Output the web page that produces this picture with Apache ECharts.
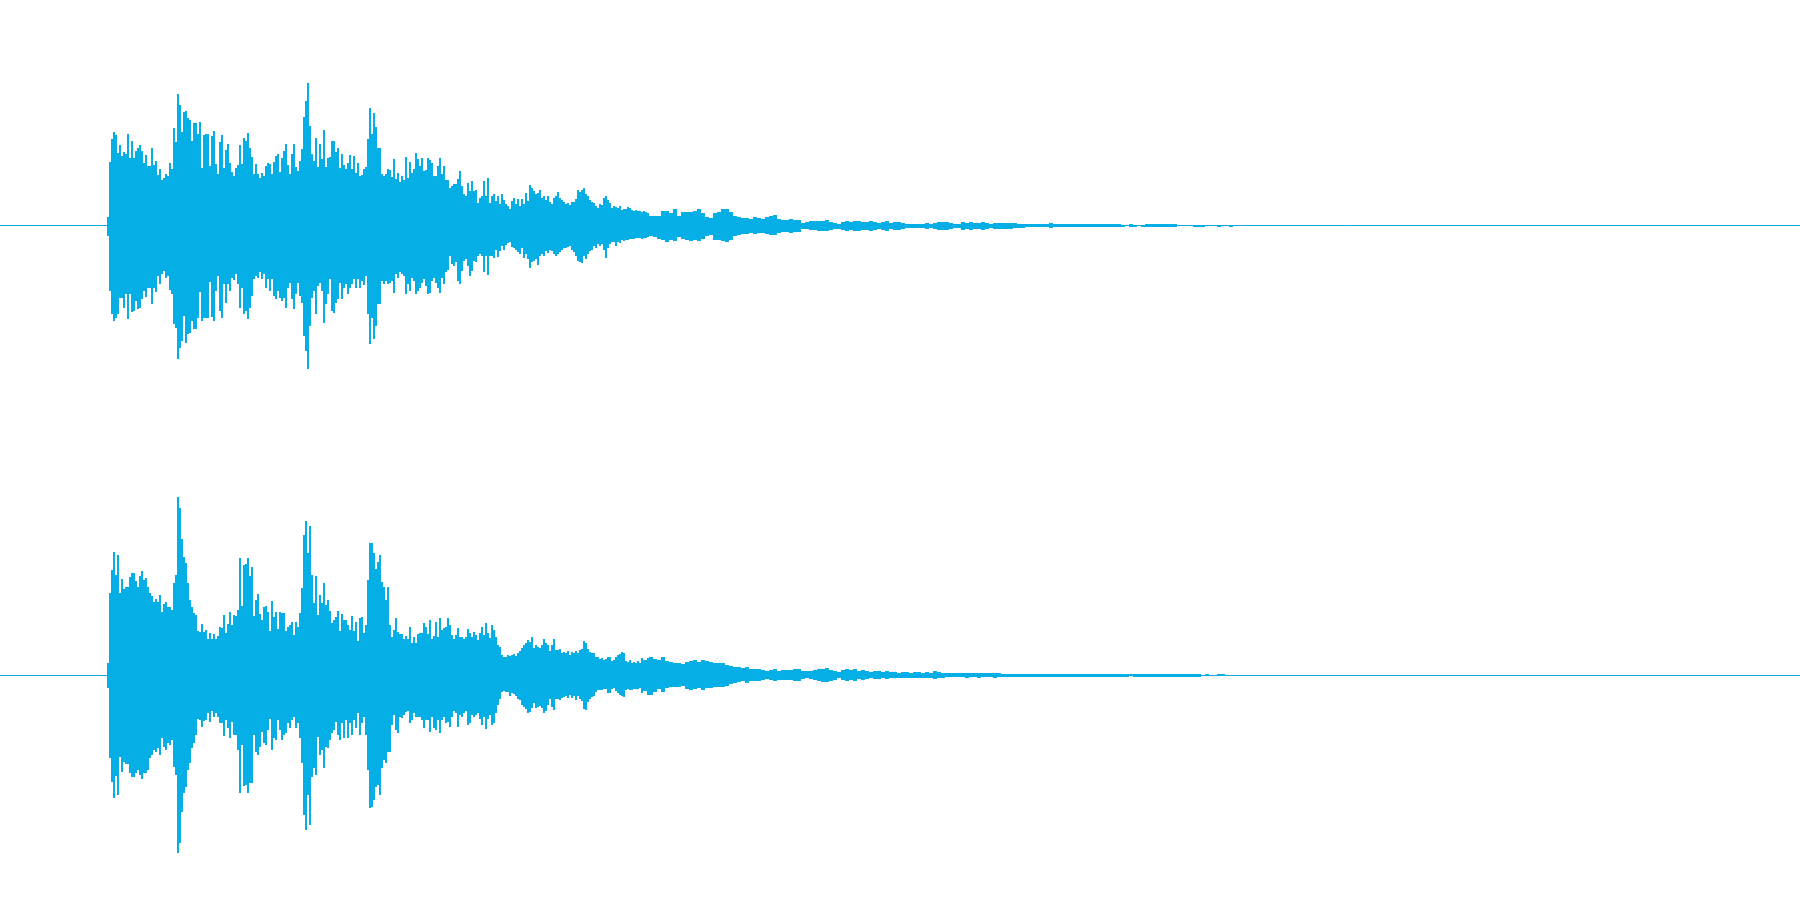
<!DOCTYPE html>
<html>
<head>
<meta charset="utf-8">
<script src="https://cdn.jsdelivr.net/npm/echarts@6/dist/echarts.min.js"></script>
<style>html,body{margin:0;padding:0;background:#fff}#c{width:1800px;height:900px}</style>
</head>
<body>
<div id="c"></div>
<script>
// Waveform envelope. Time axis units run 0..1800, amplitude -225..225.
// Sections of the time axis, each with its own column width.
const sections = [
  { start: 107, width: 2, count: 171 },
  { start: 449, width: 2, count: 100 },
  { start: 649, width: 4, count: 48 },
  { start: 841, width: 4, count: 98 }
];
const topUp = [
9,64,87,94,91,73,81,70,74,72,
92,68,85,68,75,78,81,75,63,71,
60,60,78,61,65,51,57,46,48,52,
50,63,57,98,84,132,121,94,114,115,
108,106,85,103,103,92,104,58,91,92,
92,60,90,95,62,52,84,91,58,76,
82,63,54,50,58,61,81,62,88,85,
93,78,69,52,62,52,48,53,50,60,
63,62,52,64,70,72,54,68,75,82,
61,52,72,82,59,55,65,77,109,125,
143,100,72,65,88,59,82,67,96,59,
68,69,85,85,74,78,58,72,61,57,
63,71,57,70,53,63,50,51,57,59,
87,118,92,113,99,78,78,52,50,52,
57,56,49,67,47,53,44,50,46,69,
48,64,53,57,73,67,60,68,55,56,
68,66,63,50,50,60,68,52,60,46,
46,
38,40,42,42,47,55,40,32,30,43,
35,45,35,36,23,28,30,45,30,48,
23,30,32,25,30,22,32,26,22,20,
17,25,28,22,27,20,27,22,33,25,
41,38,35,32,33,36,28,30,26,30,
24,22,28,30,34,28,26,24,22,23,
21,24,24,27,36,34,36,38,32,30,
26,24,23,20,18,22,21,28,30,26,
23,18,20,19,18,20,16,17,17,19,
18,16,15,16,15,15,14,15,14,13,
10,10,10,15,15,13,17,10,14,14,
14,15,17,13,9,8,13,14,17,17,
14,10,9,8,8,7,9,8,7,9,
10,11,7,6,6,7,6,6,3,4,
5,5,5,5,6,4,3,2,
4,5,4,5,5,4,4,5,4,3,4,5,3,4,4,3,
2,2,2,2,2,3,2,3,4,4,4,3,2,2,
4,3,4,3,3,4,3,2,3,3,3,3,3,2.5,2,2,
1.5,1.5,1.5,1.5,1.5,1.5,2.5,1.5,1.5,1.5,1.5,1.5,1.5,1.5,1.5,1.5,1.5,1.5,1.5,
1.5,1.5,1.5,1.5,1.5,1,0,1.5,1,0,1,1.5,1.5,1.5,1.5,1.5,1.5,1.5,1.5,
0,0,0,0,1,1,1,0,0,0,1,0,0,1
];
const topDown = [
10,65,88,95,92,88,72,72,82,68,
93,68,86,85,75,83,82,73,65,71,
62,62,78,62,66,50,58,48,45,52,
50,64,68,98,102,133,122,115,90,117,
108,107,95,103,103,92,66,95,92,92,
92,56,91,95,65,50,85,92,58,77,
58,65,52,54,48,58,82,62,88,85,
93,82,70,53,50,52,46,53,48,62,
53,65,53,70,73,65,72,75,72,82,
62,57,73,83,68,57,70,77,110,125,
143,100,72,65,88,60,57,65,97,78,
68,53,85,87,77,73,57,73,62,58,
68,62,58,53,62,53,62,55,59,50,
88,118,92,113,100,78,78,55,58,55,
58,57,55,67,48,52,46,48,50,68,
58,65,52,55,68,65,62,57,53,60,
68,67,55,52,57,62,67,52,58,46,
44,
30,38,40,36,55,58,45,35,33,40,
50,45,35,36,30,28,30,46,30,49,
30,30,32,24,31,25,20,24,19,17,
16,21,22,24,26,28,22,32,28,33,
42,36,35,33,39,30,28,30,25,27,
24,25,28,30,28,26,24,22,22,21,
20,24,26,30,35,36,37,30,33,28,
25,24,20,22,18,20,18,24,32,22,
18,16,16,20,16,17,14,15,14,14,
13,13,13,12,12,12,13,12,12,11,
10,11,13,14,16,14,15,11,13,14,
15,14,15,13,10,9,14,14,15,16,
14,10,9,8,8,7,8,7,7,8,
9,9,7,6,6,7,6,6,3,3,
4,4,5,5,5,4,3,3,
4,5,4,5,5,4,4,5,4,3,4,5,3,4,4,3,
2,2,2,2,2,3,2,3,4,4,4,3,2,2,
4,3,4,3,3,4,3,2,3,3,3,3,3,2.5,2,2,
1.5,1.5,1.5,1.5,1.5,1.5,2.5,1.5,1.5,1.5,1.5,1.5,1.5,1.5,1.5,1.5,1.5,1.5,1.5,
1.5,1.5,1.5,1.5,1.5,1,0,1.5,1,0,1,1.5,1.5,1.5,1.5,1.5,1.5,1.5,1.5,
0,0,0,0,1,1,1,0,0,0,1,0,0,1
];
const bottomUp = [
12,82,105,123,100,120,82,96,86,88,
88,98,102,102,94,88,99,104,95,97,
88,82,79,73,76,73,80,63,71,73,
68,68,65,92,100,178,167,136,118,112,
92,75,68,62,60,44,43,51,43,45,
36,42,36,41,36,39,48,47,60,42,
51,63,50,60,59,65,117,69,110,111,
117,99,108,59,75,81,61,55,68,69,
63,44,74,58,63,46,63,62,62,44,
48,50,53,40,53,48,62,87,140,154,
122,149,100,72,99,60,80,72,92,70,
75,64,52,55,58,64,44,61,55,55,
50,45,59,44,53,34,57,58,42,50,
95,132,132,122,106,113,120,93,88,75,
88,50,38,45,57,43,41,41,36,39,
36,48,32,38,32,41,42,42,52,48,
41,55,36,39,53,38,57,45,47,48,
57,
50,40,36,40,47,38,38,36,38,46,
42,38,43,40,35,42,48,40,52,42,
37,50,45,38,30,28,20,18,18,20,
19,20,21,19,22,24,27,30,32,35,
33,38,27,30,28,27,30,36,32,30,
24,30,36,25,25,26,22,23,22,24,
20,23,22,24,22,25,26,34,32,26,
23,22,22,18,18,16,17,15,16,18,
18,14,15,18,20,21,23,22,14,13,
15,12,13,12,14,12,17,15,15,17,
18,16,15,18,14,13,12,12,11,13,
14,15,13,15,14,13,12,12,12,10,
9,8,8,7,8,6,6,6,5,4,
5,6,4,5,5,5,6,6,4,4,
4,5,6,6,7,5,4,3,
5,6,5,6,4,5,4,3,4,4,3,4,
3,3,2.5,3,3,
2.5,3,3,2.5,3,2.5,4,3,2.5,
2,2,2,2,2,2.5,2,2,2.5,2,2,2,2.5,
2,1.5,1.5,1.5,1.5,1.5,1.5,1.5,1.5,1.5,
1.5,1.5,1.5,1.5,1.5,1.5,1.5,1.5,1.5,1.5,1.5,1.5,1.5,1.5,1.5,1.5,1.5,1.5,1.5,1.5,1.5,
1.5,1.5,1,1.5,1.5,1.5,1.5,1.5,1.5,1.5,1.5,1.5,1.5,1.5,1.5,1.5,1.5,1.5,1.5,1.5,0,1,0,0,1,1,0,0
];
const bottomDown = [
13,83,107,123,101,120,82,97,87,89,
89,98,102,102,98,95,100,104,98,98,
95,83,80,75,77,73,80,63,72,75,
68,70,65,92,100,178,168,137,118,112,
95,88,73,68,60,44,45,52,46,45,
38,47,36,42,38,42,48,48,61,45,
53,63,47,60,60,75,118,70,111,110,
118,108,108,60,77,80,72,57,68,70,
55,44,75,63,65,45,55,65,60,58,
48,53,45,42,53,48,63,88,140,155,
120,150,102,93,100,62,80,75,93,72,
73,65,58,55,47,60,65,48,63,45,
63,48,60,45,53,38,60,48,42,60,
95,133,132,125,112,110,120,93,85,88,
77,77,50,40,55,58,42,43,40,37,
36,48,45,38,42,42,42,45,53,45,
45,57,42,53,55,45,58,45,42,48,
47,
52,42,36,38,52,40,42,38,36,50,
48,40,42,40,38,44,50,42,54,44,
40,50,48,38,30,24,17,16,17,17,
21,18,19,21,24,25,30,32,34,38,
37,33,28,33,32,31,33,38,36,30,
24,32,35,24,24,25,23,22,21,23,
20,23,21,25,21,24,26,34,35,27,
24,22,21,17,15,15,15,14,14,18,
18,14,13,16,18,20,21,22,15,14,
15,15,14,14,14,13,18,16,16,20,
20,17,14,17,13,12,12,12,11,14,
15,14,13,15,13,13,12,12,12,11,
9,8,7,6,8,6,6,6,5,4,
5,6,5,5,5,5,6,6,4,3,
4,5,6,7,7,6,5,3,
5,6,5,6,4,5,4,3,4,4,3,4,
3,3,2.5,3,3,
2.5,3,3,2.5,3,2.5,4,3,2.5,
2,2,2,2,2,2.5,2,2,2.5,2,2,2,2.5,
2,1.5,1.5,1.5,1.5,1.5,1.5,1.5,1.5,1.5,
1.5,1.5,1.5,1.5,1.5,1.5,1.5,1.5,1.5,1.5,1.5,1.5,1.5,1.5,1.5,1.5,1.5,1.5,1.5,1.5,1.5,
1.5,1.5,1,1.5,1.5,1.5,1.5,1.5,1.5,1.5,1.5,1.5,1.5,1.5,1.5,1.5,1.5,1.5,1.5,1.5,0,1,0,0,1,1,0,0
];

const waveColor = '#06aee6';
const zeroLineColor = '#12a8dc';

const columns = [];
sections.forEach(s => {
  for (let i = 0; i < s.count; i++) columns.push({ t: s.start + i * s.width, w: s.width });
});
const rows = (up, down) => columns.map((c, i) => [c.t, c.w, up[i], -down[i]]);

function renderColumn(params, api) {
  const t = api.value(0), w = api.value(1);
  const a = api.coord([t, api.value(2)]);
  const b = api.coord([t + w, api.value(3)]);
  const x0 = Math.round(a[0]), y0 = Math.round(a[1]);
  const x1 = Math.round(b[0]), y1 = Math.round(b[1]);
  return { type: 'rect', shape: { x: x0, y: y0, width: x1 - x0, height: y1 - y0 },
           style: { fill: waveColor } };
}
const xAxisOf = i => ({
  type: 'value', gridIndex: i, min: 0, max: 1800, show: true,
  axisLine: { show: true, onZero: true, lineStyle: { color: zeroLineColor, width: 1 } },
  axisTick: { show: false }, axisLabel: { show: false }, splitLine: { show: false }
});
const yAxisOf = i => ({ type: 'value', gridIndex: i, min: -225, max: 225, show: false, splitLine: { show: false } });
const seriesOf = (i, up, down) => ({
  type: 'custom', xAxisIndex: i, yAxisIndex: i, data: rows(up, down),
  renderItem: renderColumn, encode: { x: 0, y: [2, 3] }, silent: true, animation: false,
  progressive: 0
});

const chart = echarts.init(document.getElementById('c'), null, { renderer: 'canvas' });
chart.setOption({
  animation: false,
  backgroundColor: '#ffffff',
  grid: [
    { left: 0, right: 0, top: 0.5, height: 450 },
    { left: 0, right: 0, top: 450.5, height: 449 }
  ],
  xAxis: [xAxisOf(0), xAxisOf(1)],
  yAxis: [yAxisOf(0), { type: 'value', gridIndex: 1, min: -224.5, max: 224.5, show: false, splitLine: { show: false } }],
  series: [seriesOf(0, topUp, topDown), seriesOf(1, bottomUp, bottomDown)]
});
</script>
</body>
</html>
